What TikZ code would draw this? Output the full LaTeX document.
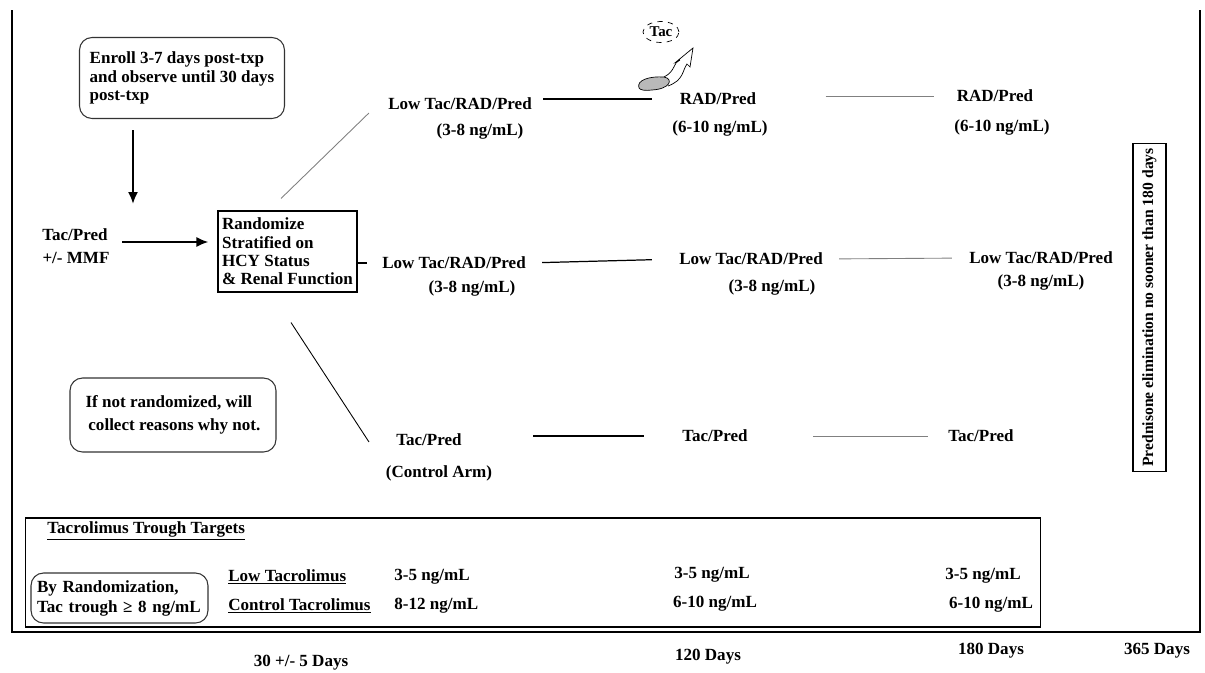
\documentclass[tikz,border=0pt]{standalone}
\usepackage{fontspec}
\setmainfont{Liberation Serif}
\usetikzlibrary{arrows.meta, shapes.geometric}

\begin{document}
\begin{tikzpicture}[x=0.02cm, y=-0.02cm,
  every node/.style={font=\fontsize{9.7}{10.4}\selectfont\bfseries, inner sep=0pt},
  rbox/.style={draw=black!80, rounded corners=0.25cm, line width=0.6pt},
  sbox/.style={draw, line width=0.6pt},
  arr/.style={-{Latex[length=2.4mm, width=2mm]}, line width=1.1pt},
  link/.style={line width=0.7pt},
  faint/.style={draw=gray, line width=0.5pt}]
\useasboundingbox (0,0) rectangle (1205,673);
\draw[line width=0.9pt] (12,10) -- (12,632) -- (1200,632) -- (1200,10);

\node[rbox, minimum width=4.1cm, minimum height=1.62cm, align=left] (enroll) at (182,78) {Enroll 3-7 days post-txp\\and observe until 30 days\\post-txp};
\node (start) at (75,235) {Tac/Pred};
\node (mmf) at (76,258) {+/- MMF};
\node[sbox, minimum width=2.78cm, minimum height=1.62cm, align=left] (rand) at (287.5,251.5) {Randomize\\Stratified on\\HCY Status\\\& Renal Function};
\node[rbox, minimum width=4.12cm, minimum height=1.48cm, align=left] (notrand) at (173,415) {If not randomized, will\\[2.6pt] \,collect reasons why not.};

\coordinate (down1) at (133,130);
\coordinate (down2) at (133,204);
\coordinate (right1) at (122,242);
\draw[arr] (down1) -- (down2);
\draw[arr, shorten >=0.18cm] (right1) -- (rand.west |- right1);

\node (lt1) at (460,104) {Low Tac/RAD/Pred};
\node (lt1n) at (480,131) {(3-8 ng/mL)};
\node (rp1) at (718,99) {RAD/Pred};
\node (rp1n) at (720,128) {(6-10 ng/mL)};
\node (rp2) at (995,96) {RAD/Pred};
\node (rp2n) at (1002,127) {(6-10 ng/mL)};

\node (lt2) at (454,263) {Low Tac/RAD/Pred};
\node (lt2n) at (472,288) {(3-8 ng/mL)};
\node (lt3) at (751,259) {Low Tac/RAD/Pred};
\node (lt3n) at (772,287) {(3-8 ng/mL)};
\node (lt4) at (1041,258) {Low Tac/RAD/Pred};
\node (lt4n) at (1041,282) {(3-8 ng/mL)};

\node (tp1) at (429,440) {Tac/Pred};
\node (tp1n) at (439,473) {(Control Arm)};
\node (tp2) at (715,436) {Tac/Pred};
\node (tp3) at (981,436) {Tac/Pred};

\draw[faint] ([xshift=-0.13cm, yshift=0.24cm]rand.north) -- ([xshift=-0.38cm, yshift=-0.18cm]lt1.west);
\draw[link, shorten <=0.22cm, shorten >=0.54cm] (lt1.east |- rp1.west) -- (rp1.west);
\draw[faint, shorten <=1.38cm, shorten >=0.44cm] (rp1.east |- rp2.west) -- (rp2.west);

\draw[link] (rand.east |- lt2) -- ++(9,0);
\draw[link, shorten <=0.32cm, shorten >=0.54cm] (lt2.east) -- (lt3.west);
\draw[faint, shorten <=0.32cm, shorten >=0.34cm] (lt3.east) -- (lt4.west);

\draw[link, line width=0.5pt] ([xshift=0.07cm, yshift=-0.6cm]rand.south) -- ([xshift=-0.54cm, yshift=-0.04cm]tp1.west);
\draw[link, shorten <=1.42cm, shorten >=0.76cm] (tp1.east |- tp2.west) -- (tp2.west);
\draw[faint, shorten <=1.3cm, shorten >=0.4cm] (tp2.east) -- (tp3.west);

\node[ellipse, draw, dashed, line width=0.4pt, minimum width=0.72cm, minimum height=0.42cm, font=\fontsize{8.5}{9}\selectfont\bfseries] (tac) at (661,32) {Tac};
\draw[line width=0.4pt, fill=gray!55] (639,88) .. controls (636,80) and (650,76) .. (664,77) .. controls (674,79) and (670,89) .. (652,90) .. controls (645,91) and (640,90) .. (639,88) -- cycle;
\draw[line width=0.4pt] (664,77) .. controls (676,71) and (673,62) .. (680,60) -- (676,62) -- (693,48) -- (690,67) -- (687,64) .. controls (682,71) and (684,80) .. (668,86);

\node[sbox, rotate=90, minimum width=6.58cm, minimum height=0.66cm, font=\fontsize{8.9}{10}\selectfont\bfseries] (pred) at (1149.5,307.5) {Prednisone elimination no sooner than 180 days};

\node[sbox, minimum width=20.32cm, minimum height=2.18cm] (table) at (533,572.5) {};
\node[anchor=west] (ttt) at (47,531) {\underline{Tacrolimus Trough Targets}};
\node[rbox, minimum width=3.54cm, minimum height=1.0cm, text width=3.3cm, align=left] (byrand) at (119.5,598) {By Randomization,\\[1pt]Tac trough ≥ 8 ng/mL};
\node[anchor=west] (lowtac) at (228,577) {\underline{Low Tacrolimus}};
\node[anchor=west] (ctltac) at (228,606) {\underline{Control Tacrolimus}};
\node[anchor=west] (low1) at (394,577) {3-5 ng/mL};
\node[anchor=west] (ctl1) at (394,606) {8-12 ng/mL};
\node (low2) at (712,575) {3-5 ng/mL};
\node (ctl2) at (715,604) {6-10 ng/mL};
\node (low3) at (983,576) {3-5 ng/mL};
\node (ctl3) at (991,605) {6-10 ng/mL};

\node (d30) at (301,663) {30 +/- 5 Days};
\node (d120) at (708,657) {120 Days};
\node (d180) at (991,651) {180 Days};
\node (d365) at (1157,651) {365 Days};
\end{tikzpicture}
\end{document}
